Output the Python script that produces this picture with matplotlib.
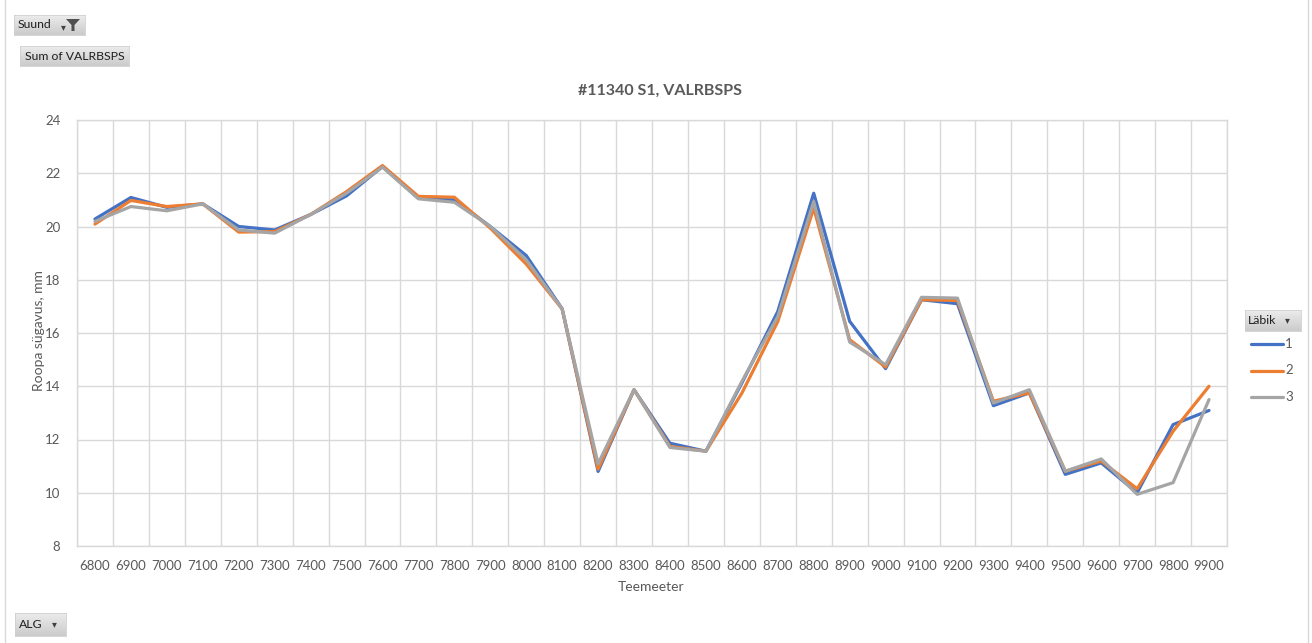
import numpy as np
import matplotlib
matplotlib.use("Agg")
import matplotlib.pyplot as plt
from matplotlib.patches import Rectangle, Polygon
from matplotlib.lines import Line2D

plt.rcParams['font.family'] = ['Lato', 'DejaVu Sans']

categories = ["6800", "6900", "7000", "7100", "7200", "7300", "7400", "7500",
              "7600", "7700", "7800", "7900", "8000", "8100", "8200", "8300",
              "8400", "8500", "8600", "8700", "8800", "8900", "9000", "9100",
              "9200", "9300", "9400", "9500", "9600", "9700", "9800", "9900"]

labik1 = [20.28, 21.09, 20.72, 20.85, 20.00, 19.87, 20.45, 21.15,
          22.25, 21.06, 21.00, 20.00, 18.91, 16.91, 10.80, 13.87,
          11.86, 11.56, 14.12, 16.81, 21.25, 16.44, 14.66, 17.25,
          17.10, 13.27, 13.75, 10.69, 11.12, 10.00, 12.56, 13.09]
labik2 = [20.09, 20.98, 20.75, 20.85, 19.79, 19.81, 20.45, 21.31,
          22.29, 21.13, 21.10, 19.94, 18.59, 16.90, 10.89, 13.87,
          11.74, 11.56, 13.74, 16.43, 20.69, 15.75, 14.72, 17.25,
          17.22, 13.44, 13.75, 10.81, 11.19, 10.15, 12.31, 14.00]
labik3 = [20.19, 20.75, 20.59, 20.85, 19.87, 19.75, 20.45, 21.25,
          22.23, 21.04, 20.91, 20.00, 18.75, 16.90, 11.09, 13.87,
          11.70, 11.56, 14.18, 16.62, 20.94, 15.66, 14.81, 17.34,
          17.31, 13.37, 13.87, 10.81, 11.27, 9.94, 10.38, 13.50]

series_names = ["1", "2", "3"]
colors = ["#4472C4", "#ED7D31", "#A5A5A5"]
title = "#11340 S1, VALRBSPS"
xlabel = "Teemeeter"
ylabel = "Roopa sügavus, mm"

W, H = 1312, 643
fig = plt.figure(figsize=(W / 100, H / 100), dpi=100)

def fx(px):
    return px / W

def fy(py):
    return 1 - py / H

# outer chart border
fig.patches.append(Rectangle((fx(5), fy(648)), fx(1303), 643 / H + 0.01,
                             transform=fig.transFigure, facecolor='none',
                             edgecolor='#d9d9d9', linewidth=1.0))

ax = fig.add_axes([fx(77), fy(546), fx(1150), (546 - 120) / H])
x = np.arange(len(categories))
for vals, c, n in zip([labik1, labik2, labik3], colors, series_names):
    ax.plot(x, vals, color=c, linewidth=2.3, label=n, solid_joinstyle='round',
            solid_capstyle='round')

ax.set_xlim(-0.5, len(categories) - 0.5)
ax.set_ylim(8, 24)
ax.set_yticks(np.arange(8, 25, 2))
ax.set_xticks(x)
ax.set_xticklabels(categories)
ax.set_xticks(np.arange(-0.5, len(categories), 1), minor=True)
ax.grid(True, axis='y', which='major', color='#d9d9d9', linewidth=1.0)
ax.grid(True, axis='x', which='minor', color='#d9d9d9', linewidth=1.0)
ax.set_axisbelow(True)
for s in ax.spines.values():
    s.set_color('#d9d9d9')
    s.set_linewidth(1.0)
ax.tick_params(axis='both', which='both', length=0, colors='#595959',
               labelsize=9.5)
ax.tick_params(axis='x', pad=10)
ax.tick_params(axis='y', pad=12)

fig.text(fx(660), fy(91), title, ha='center', va='center', fontsize=11.5,
         fontweight='bold', color='#595959')
fig.text(fx(651), fy(587), xlabel, ha='center', va='center', fontsize=10,
         color='#595959')
fig.text(fx(39), fy(331), ylabel, ha='center', va='center', fontsize=10,
         color='#595959', rotation=90)

cmap_btn = matplotlib.colors.LinearSegmentedColormap.from_list(
    'btn', ['#ececec', '#cbcbcb'])

def button(x0, y0, x1, y1, text, tx):
    # vertical gradient, light at top, darker at bottom
    bax = fig.add_axes([fx(x0), fy(y1), fx(x1 - x0), (y1 - y0) / H])
    grad = np.linspace(0, 1, 32).reshape(-1, 1)
    bax.imshow(grad, aspect='auto', cmap=cmap_btn, extent=[0, 1, 0, 1],
               origin='upper')
    bax.set_xticks([])
    bax.set_yticks([])
    for s in bax.spines.values():
        s.set_color('#d0d0d0')
        s.set_linewidth(0.6)
    fig.text(fx(tx), fy((y0 + y1) / 2), text, ha='left', va='center',
             fontsize=8.8, color='#1f1f1f')

button(14, 15, 85, 35, "Suund", 18)
fig.text(fx(61), fy(27), "▾", ha='left', va='center', fontsize=7,
         color='#404040', family='DejaVu Sans')
fig.patches.append(Polygon([[fx(66), fy(19)], [fx(80), fy(19)], [fx(74.5), fy(25)],
                            [fx(74.5), fy(31)], [fx(71.5), fy(31)], [fx(71.5), fy(25)]],
                           closed=True, transform=fig.transFigure,
                           facecolor='#505050', edgecolor='none', zorder=10))
button(20, 46, 129, 66, "Sum of VALRBSPS", 25)
button(15, 613, 66, 636, "ALG", 19)
fig.text(fx(52), fy(624), "▾", ha='left', va='center', fontsize=7,
         color='#404040', family='DejaVu Sans')
button(1245, 310, 1301, 331, "Läbik", 1248)
fig.text(fx(1285), fy(320), "▾", ha='left', va='center', fontsize=7,
         color='#404040', family='DejaVu Sans')

for i, (n, c) in enumerate(zip(series_names, colors)):
    yy = 344 + i * 26.5
    fig.lines.append(Line2D([fx(1251), fx(1283)], [fy(yy), fy(yy)],
                            transform=fig.transFigure, color=c, linewidth=2.3,
                            solid_capstyle='round'))
    fig.text(fx(1285), fy(yy), n, ha='left', va='center', fontsize=9.5,
             color='#595959')

fig.savefig("out.png", dpi=100, facecolor='white')
